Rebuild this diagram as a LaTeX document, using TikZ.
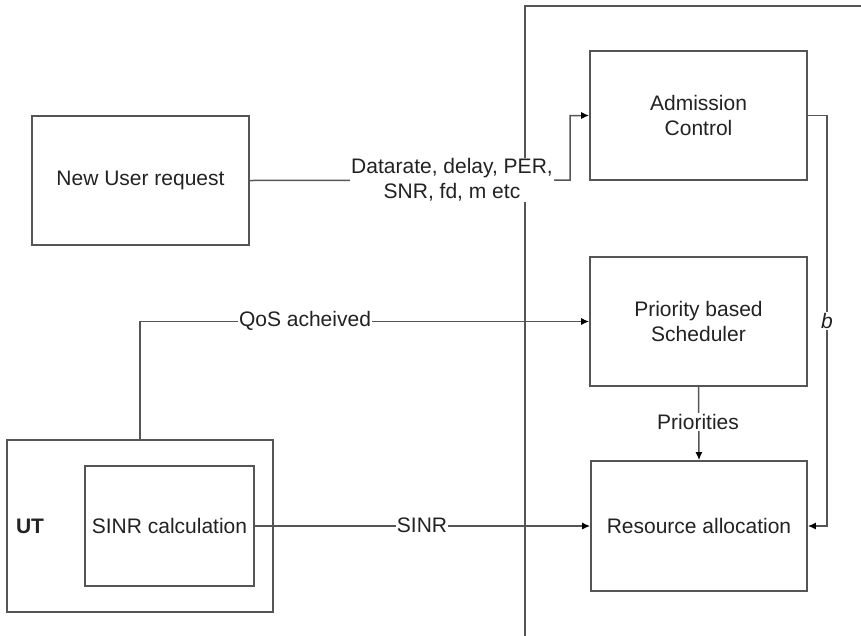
\documentclass[tikz,border=0pt]{standalone}
\usepackage{fontspec}
\setmainfont{Liberation Sans}
\usetikzlibrary{arrows.meta}
\definecolor{ln}{HTML}{555555}
\definecolor{tx}{HTML}{222222}
\tikzset{
  blk/.style={draw=ln, line width=1.6pt, rectangle, inner sep=0pt, text=tx, align=center,
              font=\fontsize{21}{25}\selectfont},
  conn/.style={draw=ln, line width=1.5pt},
  arr/.style={conn, -{Latex[length=8pt,width=7pt,fill=black,color=black]}},
  lbl/.style={fill=white, inner sep=1pt, text=tx, align=center, font=\fontsize{21}{25}\selectfont}
}
\begin{document}
\begin{tikzpicture}[x=1pt,y=-1pt]
\useasboundingbox (0,0) rectangle (861,635);
% frame
\draw[conn] (525,640) -- (525,6) -- (866,6);
% blocks
\node[blk, minimum width=217pt, minimum height=129pt] (nu) at (140.5,180.5) {New User request};
\node[blk, minimum width=217pt, minimum height=129pt] (adm) at (698.5,115.5) {Admission\\Control};
\node[blk, minimum width=217pt, minimum height=129pt] (sch) at (698.5,321.5) {Priority based\\Scheduler};
\node[blk, minimum width=216pt, minimum height=130pt] (res) at (699,526) {Resource allocation};
\node[blk, minimum width=266pt, minimum height=172pt] (ut) at (140,526) {};
\node[blk, minimum width=169pt, minimum height=120pt] (sinr) at (169.5,526) {SINR calculation};
\node[text=tx, font=\fontsize{21}{25}\selectfont\bfseries] (utl) at (30,526) {UT};
% connectors
\coordinate (dj) at (570,180);
\draw[arr] (nu.east) -- (dj) |- (adm.west);
\node[lbl] (dl) at (452,180) {Datarate, delay, PER,\\SNR, fd, m etc};
\draw[arr] (ut.north) |- (sch.west);
\node[lbl] (ql) at (305,321) {QoS acheived};
\draw[arr] (sinr.east) -- (res.west);
\node[lbl] (sl) at (422,525) {SINR};
\draw[arr] (sch.south) -- (res.north);
\node[lbl] (pl) at (698,422) {Priorities};
\coordinate (bc) at (827,115.5);
\draw[arr] (adm.east) -- (bc) |- (res.east);
\node[lbl, font=\fontsize{21}{25}\selectfont\itshape] (bl) at (827,321) {b};
\end{tikzpicture}
\end{document}
